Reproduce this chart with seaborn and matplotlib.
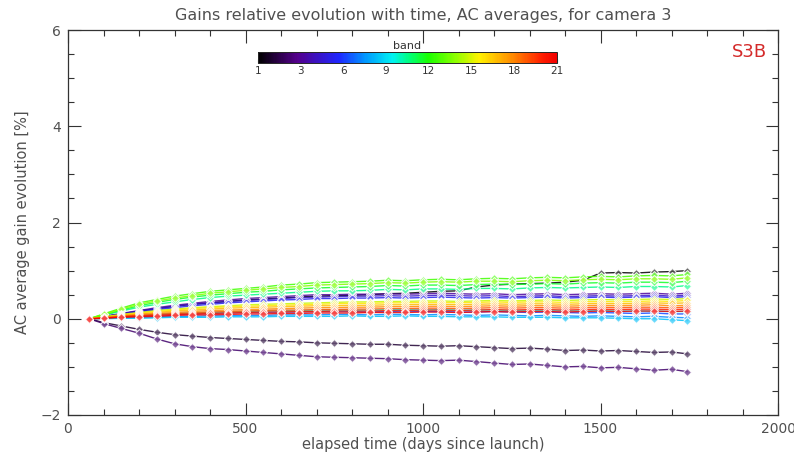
import numpy as np
import pandas as pd
import matplotlib
matplotlib.use("Agg")
import matplotlib.pyplot as plt
import seaborn as sns
from matplotlib.colors import LinearSegmentedColormap, Normalize, to_rgb
from matplotlib.ticker import MultipleLocator
import matplotlib.transforms as mtransforms
import matplotlib as mpl

# ---------------- data ----------------
days = [60, 100, 150, 200, 250, 300, 350, 400, 450, 500, 550, 600, 650, 700, 750,
        800, 850, 900, 950, 1000, 1050, 1100, 1150, 1200, 1250, 1300, 1350, 1400,
        1450, 1500, 1550, 1600, 1650, 1700, 1745]

band1 = [0.00,0.04,0.10,0.16,0.21,0.26,0.30,0.33,0.36,0.39,0.41,0.43,0.45,0.47,0.48,0.49,0.50,0.52,0.53,0.55,0.57,0.58,0.66,0.70,0.72,0.73,0.74,0.76,0.80,0.95,0.96,0.95,0.97,0.98,1.00]
band2 = [0.00,-0.08,-0.15,-0.22,-0.28,-0.33,-0.36,-0.39,-0.41,-0.43,-0.45,-0.47,-0.48,-0.50,-0.51,-0.52,-0.53,-0.53,-0.55,-0.56,-0.57,-0.56,-0.58,-0.60,-0.62,-0.61,-0.63,-0.66,-0.65,-0.67,-0.66,-0.68,-0.70,-0.69,-0.73]
band3 = [0.00,-0.10,-0.20,-0.30,-0.42,-0.52,-0.58,-0.62,-0.64,-0.67,-0.70,-0.73,-0.76,-0.79,-0.80,-0.81,-0.82,-0.83,-0.85,-0.86,-0.87,-0.86,-0.89,-0.92,-0.95,-0.94,-0.97,-1.00,-0.99,-1.02,-1.01,-1.04,-1.07,-1.05,-1.10]
band4 = [0.00,0.05,0.11,0.17,0.23,0.28,0.32,0.36,0.39,0.42,0.44,0.46,0.48,0.50,0.50,0.51,0.51,0.52,0.51,0.52,0.53,0.52,0.51,0.52,0.50,0.51,0.52,0.50,0.51,0.52,0.51,0.52,0.53,0.51,0.53]
band5 = [0.00,0.04,0.10,0.16,0.21,0.26,0.30,0.33,0.36,0.38,0.40,0.42,0.44,0.45,0.46,0.47,0.47,0.48,0.47,0.48,0.49,0.48,0.47,0.48,0.46,0.47,0.48,0.46,0.47,0.48,0.47,0.48,0.49,0.47,0.49]
band6 = [0.00,0.04,0.09,0.14,0.19,0.23,0.27,0.30,0.33,0.35,0.37,0.39,0.40,0.42,0.42,0.43,0.43,0.44,0.43,0.44,0.45,0.44,0.43,0.44,0.43,0.44,0.45,0.43,0.44,0.45,0.44,0.45,0.46,0.44,0.46]
band7 = [0.00,0.02,0.04,0.06,0.08,0.09,0.10,0.11,0.12,0.13,0.13,0.14,0.14,0.15,0.15,0.15,0.14,0.15,0.16,0.15,0.15,0.14,0.14,0.15,0.14,0.13,0.14,0.13,0.12,0.13,0.12,0.11,0.12,0.10,0.10]
band8 = [0.00,0.01,0.02,0.03,0.04,0.05,0.05,0.06,0.06,0.07,0.07,0.08,0.08,0.08,0.09,0.09,0.08,0.09,0.09,0.08,0.09,0.08,0.07,0.08,0.07,0.06,0.07,0.06,0.05,0.06,0.05,0.04,0.05,0.03,0.02]
band9 = [0.00,0.00,0.01,0.01,0.02,0.03,0.03,0.03,0.04,0.04,0.04,0.05,0.05,0.05,0.05,0.06,0.05,0.05,0.06,0.05,0.05,0.04,0.04,0.04,0.03,0.03,0.03,0.02,0.02,0.02,0.01,0.00,0.00,-0.02,-0.04]
band10 = [0.00,0.02,0.05,0.07,0.09,0.11,0.12,0.13,0.14,0.15,0.16,0.17,0.17,0.18,0.18,0.18,0.18,0.19,0.19,0.18,0.19,0.18,0.18,0.18,0.17,0.17,0.18,0.17,0.16,0.17,0.16,0.16,0.16,0.15,0.15]
band11 = [0.00,0.07,0.16,0.24,0.30,0.35,0.40,0.44,0.47,0.49,0.51,0.53,0.55,0.57,0.58,0.58,0.59,0.61,0.60,0.62,0.62,0.61,0.63,0.63,0.62,0.64,0.65,0.64,0.65,0.66,0.65,0.67,0.67,0.66,0.69]
band12 = [0.00,0.08,0.18,0.27,0.34,0.40,0.45,0.49,0.52,0.55,0.57,0.60,0.62,0.64,0.65,0.66,0.67,0.69,0.68,0.70,0.70,0.69,0.71,0.72,0.71,0.72,0.73,0.72,0.74,0.75,0.74,0.76,0.76,0.75,0.78]
band13 = [0.00,0.10,0.22,0.33,0.40,0.47,0.52,0.57,0.60,0.63,0.66,0.70,0.72,0.75,0.76,0.77,0.78,0.80,0.79,0.81,0.82,0.81,0.83,0.84,0.83,0.85,0.86,0.85,0.87,0.88,0.87,0.89,0.90,0.89,0.92]
band14 = [0.00,0.09,0.20,0.30,0.37,0.43,0.48,0.53,0.56,0.59,0.62,0.65,0.67,0.70,0.71,0.72,0.73,0.75,0.74,0.76,0.77,0.76,0.78,0.78,0.77,0.79,0.80,0.79,0.81,0.82,0.81,0.83,0.83,0.82,0.85]
band15 = [0.00,0.04,0.09,0.13,0.17,0.20,0.23,0.25,0.27,0.29,0.30,0.31,0.32,0.33,0.34,0.35,0.35,0.36,0.36,0.37,0.37,0.36,0.37,0.38,0.37,0.38,0.39,0.38,0.39,0.40,0.39,0.40,0.41,0.40,0.42]
band16 = [0.00,0.03,0.08,0.12,0.15,0.18,0.21,0.23,0.25,0.26,0.27,0.28,0.29,0.30,0.31,0.32,0.32,0.33,0.33,0.34,0.34,0.33,0.34,0.35,0.34,0.35,0.35,0.34,0.35,0.36,0.35,0.36,0.37,0.36,0.38]
band17 = [0.00,0.03,0.07,0.10,0.13,0.16,0.18,0.20,0.22,0.23,0.24,0.25,0.26,0.27,0.27,0.28,0.28,0.29,0.29,0.30,0.30,0.29,0.30,0.31,0.30,0.31,0.31,0.30,0.31,0.32,0.31,0.32,0.33,0.32,0.33]
band18 = [0.00,0.02,0.06,0.09,0.11,0.13,0.15,0.17,0.18,0.19,0.20,0.21,0.22,0.23,0.23,0.24,0.24,0.25,0.25,0.26,0.26,0.25,0.26,0.27,0.26,0.27,0.27,0.26,0.27,0.28,0.27,0.28,0.29,0.27,0.28]
band19 = [0.00,0.02,0.05,0.07,0.09,0.11,0.12,0.14,0.15,0.16,0.17,0.18,0.18,0.19,0.19,0.20,0.20,0.21,0.21,0.22,0.22,0.21,0.22,0.23,0.22,0.23,0.23,0.22,0.23,0.24,0.23,0.24,0.24,0.23,0.24]
band20 = [0.00,0.01,0.04,0.06,0.07,0.09,0.10,0.11,0.12,0.13,0.14,0.14,0.15,0.15,0.16,0.16,0.16,0.17,0.17,0.18,0.18,0.17,0.18,0.19,0.18,0.19,0.19,0.18,0.19,0.20,0.19,0.20,0.20,0.19,0.20]
band21 = [0.00,0.01,0.03,0.04,0.05,0.07,0.08,0.08,0.09,0.10,0.10,0.11,0.11,0.12,0.12,0.12,0.13,0.13,0.13,0.14,0.14,0.13,0.14,0.15,0.14,0.15,0.15,0.14,0.15,0.16,0.15,0.16,0.16,0.15,0.16]

band_series = [band1, band2, band3, band4, band5, band6, band7, band8, band9, band10,
               band11, band12, band13, band14, band15, band16, band17, band18, band19,
               band20, band21]
cbar_ticklabels = ["1", "3", "6", "9", "12", "15", "18", "21"]

title = "Gains relative evolution with time, AC averages, for camera 3"
xlabel = "elapsed time (days since launch)"
ylabel = "AC average gain evolution [%]"

# ---------------- table ----------------
rows = []
for b, vals in enumerate(band_series, start=1):
    for d, v in zip(days, vals):
        rows.append((b, d, v))
df = pd.DataFrame(rows, columns=["band", "day", "gain"])

# IDL-like rainbow + black colormap
cmap = LinearSegmentedColormap.from_list("idl39", [
    (0.00, (0.00, 0.00, 0.00)),
    (0.13, (0.33, 0.00, 0.55)),
    (0.27, (0.12, 0.15, 1.00)),
    (0.36, (0.00, 0.60, 1.00)),
    (0.45, (0.00, 0.95, 0.95)),
    (0.51, (0.00, 1.00, 0.45)),
    (0.57, (0.10, 1.00, 0.00)),
    (0.66, (0.55, 1.00, 0.00)),
    (0.74, (1.00, 0.95, 0.00)),
    (0.85, (1.00, 0.55, 0.00)),
    (0.95, (1.00, 0.12, 0.00)),
    (1.00, (0.95, 0.00, 0.00)),
])
norm = Normalize(1, 21)
palette = {b: cmap(norm(b)) for b in range(1, 22)}

sns.set_style("ticks")
plt.rcParams['font.family'] = ['DejaVu Sans']
txtc = "#505050"

fig = plt.figure(figsize=(7.94, 4.59), dpi=100)
ax = fig.add_axes([68 / 794, 1 - 415 / 459, 710 / 794, 385 / 459])

sns.lineplot(data=df, x="day", y="gain", hue="band", palette=palette,
             hue_order=list(range(1, 22)), estimator=None, sort=False,
             marker="D", markersize=4.3, markeredgewidth=0.8, linewidth=1.0,
             alpha=0.85, legend=False, ax=ax)
# slightly lighter marker interiors, as the open IDL diamonds look
for ln in ax.lines:
    c = np.array(to_rgb(ln.get_color()))
    ln.set_markerfacecolor(tuple(c * 0.7 + 0.3))

ax.set_xlim(0, 2000)
ax.set_ylim(-2, 6)
ax.xaxis.set_major_locator(MultipleLocator(500))
ax.xaxis.set_minor_locator(MultipleLocator(100))
ax.yaxis.set_major_locator(MultipleLocator(2))
ax.yaxis.set_minor_locator(MultipleLocator(0.5))
ax.tick_params(which="both", direction="in", top=True, right=True, colors="#333333",
               labelcolor=txtc, labelsize=10)
ax.tick_params(which="major", length=9, width=0.8, pad=5)
ax.tick_params(which="minor", length=4.5, width=0.8)
for s in ax.spines.values():
    s.set_color("#333333")
    s.set_linewidth(0.9)
    s.set_visible(True)
ax.set_xlabel(xlabel, color=txtc, fontsize=10.5, labelpad=1)
ax.set_ylabel(ylabel, color=txtc, fontsize=10.5, labelpad=8)
ax.set_title(title, color=txtc, fontsize=11.5, pad=7)

# keep the last x tick label inside the figure
fig.canvas.draw()
last = ax.get_xticklabels()[-1]
last.set_transform(last.get_transform() +
                   mtransforms.ScaledTranslation(-6 / 100, 0, fig.dpi_scale_trans))

ax.text(0.985, 0.965, "S3B", transform=ax.transAxes, ha="right", va="top",
        color="#d42a2a", fontsize=13)

# colorbar
cax = fig.add_axes([258 / 794, 1 - 63 / 459, 299 / 794, 11 / 459])
cb = mpl.colorbar.ColorbarBase(cax, cmap=cmap, norm=norm, orientation="horizontal")
cb.set_ticks(np.linspace(1, 21, 8))
cb.set_ticklabels(cbar_ticklabels)
cax.tick_params(direction="in", length=3, labelsize=7.5, labelcolor="#333333", pad=2)
cb.outline.set_linewidth(0.7)
cax.set_title("band", fontsize=8, color="#333333", pad=2)

fig.savefig("out.png", dpi=100)
